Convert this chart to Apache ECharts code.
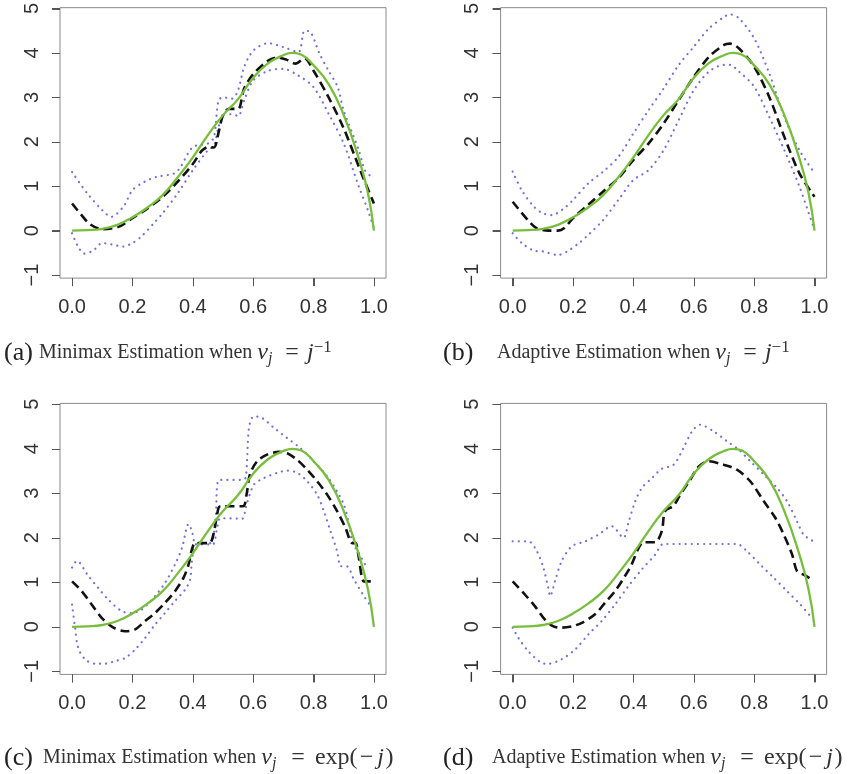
<!DOCTYPE html>
<html>
<head>
<meta charset="utf-8">
<script src="https://cdn.jsdelivr.net/npm/echarts@6/dist/echarts.min.js"></script>
<style>
  html, body { margin: 0; padding: 0; background: #ffffff; }
  #chart { width: 858px; height: 774px; }
</style>
</head>
<body>
<div id="chart"></div>
<script>
// tick labels
let xTicks = [0, 0.2, 0.4, 0.6, 0.8, 1.0]
let yTicks = [-1, 0, 1, 2, 3, 4, 5]

// true function, same in every panel
let trueCurve = [[0, 0], [0.05, 0.01], [0.1, 0.04], [0.15, 0.13], [0.2, 0.3], [0.25, 0.52], [0.3, 0.8],
  [0.35, 1.2], [0.4, 1.65], [0.45, 2.15], [0.5, 2.6], [0.55, 2.96], [0.6, 3.44], [0.65, 3.77],
  [0.7, 3.95], [0.73, 4.0], [0.76, 3.96], [0.8, 3.72], [0.85, 3.3], [0.9, 2.6], [0.95, 1.62],
  [0.98, 0.85], [1, 0]]

// (a) minimax, v_j = j^-1
let estA = [[0, 0.61], [0.03, 0.36], [0.06, 0.14], [0.1, 0.03], [0.13, 0.05], [0.16, 0.1], [0.2, 0.28],
  [0.25, 0.5], [0.3, 0.76], [0.35, 1.1], [0.4, 1.5], [0.43, 1.8], [0.45, 1.88], [0.47, 1.87],
  [0.485, 2.2], [0.5, 2.6], [0.52, 2.74], [0.55, 2.74], [0.57, 3.2], [0.6, 3.52], [0.65, 3.83],
  [0.68, 3.9], [0.71, 3.85], [0.74, 3.76], [0.77, 3.88], [0.8, 3.6], [0.85, 3.0], [0.9, 2.3],
  [0.95, 1.44], [0.97, 1.1], [1, 0.61]]
let upA = [[0, 1.32], [0.05, 0.84], [0.1, 0.46], [0.13, 0.31], [0.17, 0.54], [0.2, 0.91], [0.24, 1.1],
  [0.28, 1.21], [0.34, 1.29], [0.36, 1.44], [0.4, 1.88], [0.45, 1.96], [0.47, 2.1], [0.485, 2.93],
  [0.5, 3.0], [0.53, 2.97], [0.55, 3.16], [0.57, 3.68], [0.6, 4.05], [0.65, 4.22], [0.7, 4.13],
  [0.75, 4.02], [0.77, 4.5], [0.79, 4.47], [0.82, 3.98], [0.85, 3.6], [0.88, 3.23], [0.9, 2.7],
  [0.95, 1.81], [0.97, 1.36], [0.99, 1.22]]
let loA = [[0, -0.06], [0.02, -0.36], [0.04, -0.52], [0.07, -0.45], [0.1, -0.28], [0.13, -0.31],
  [0.17, -0.36], [0.2, -0.28], [0.23, -0.13], [0.27, 0.16], [0.3, 0.39], [0.35, 0.84], [0.4, 1.36],
  [0.45, 1.81], [0.47, 1.92], [0.485, 2.33], [0.5, 2.6], [0.53, 2.62], [0.55, 2.58], [0.57, 2.93],
  [0.6, 3.38], [0.65, 3.6], [0.7, 3.64], [0.75, 3.49], [0.8, 3.23], [0.85, 2.63], [0.9, 1.96],
  [0.95, 0.99], [0.98, 0.46], [1, 0.05]]

// (b) adaptive, v_j = j^-1
let estB = [[0, 0.65], [0.05, 0.24], [0.08, 0.05], [0.12, 0], [0.15, 0], [0.17, 0.05], [0.2, 0.28],
  [0.25, 0.58], [0.3, 0.88], [0.35, 1.18], [0.4, 1.59], [0.45, 1.96], [0.5, 2.41], [0.55, 2.94],
  [0.6, 3.46], [0.65, 3.91], [0.7, 4.18], [0.72, 4.21], [0.75, 4.1], [0.8, 3.69], [0.85, 3.01],
  [0.9, 2.11], [0.95, 1.29], [1, 0.76]]
let upB = [[0, 1.33], [0.03, 0.91], [0.07, 0.54], [0.1, 0.39], [0.13, 0.35], [0.17, 0.5], [0.2, 0.69],
  [0.25, 1.06], [0.3, 1.33], [0.35, 1.66], [0.4, 2.19], [0.45, 2.71], [0.5, 3.2], [0.55, 3.73],
  [0.6, 4.14], [0.65, 4.55], [0.7, 4.81], [0.72, 4.87], [0.75, 4.78], [0.8, 4.33], [0.85, 3.54],
  [0.9, 2.56], [0.95, 1.81], [1, 1.3]]
let loB = [[0, -0.06], [0.03, -0.28], [0.07, -0.45], [0.1, -0.47], [0.15, -0.55], [0.18, -0.47],
  [0.22, -0.28], [0.25, -0.1], [0.3, 0.24], [0.35, 0.69], [0.4, 1.14], [0.45, 1.36], [0.5, 1.81],
  [0.55, 2.49], [0.6, 3.16], [0.65, 3.58], [0.7, 3.73], [0.72, 3.73], [0.75, 3.58], [0.8, 3.24],
  [0.85, 2.56], [0.9, 1.81], [0.95, 0.99], [1, 0.01]]

// (c) minimax, v_j = exp(-j)
let estC = [[0, 1.02], [0.032, 0.8], [0.065, 0.5], [0.098, 0.2], [0.137, -0.02], [0.176, -0.1],
  [0.209, -0.06], [0.242, 0.13], [0.275, 0.31], [0.308, 0.54], [0.341, 0.8], [0.369, 1.1],
  [0.386, 1.4], [0.397, 1.74], [0.408, 1.88], [0.455, 1.88], [0.468, 2.07], [0.485, 2.67],
  [0.492, 2.71], [0.566, 2.71], [0.578, 2.97], [0.589, 3.42], [0.613, 3.72], [0.646, 3.87],
  [0.685, 3.93], [0.713, 3.9], [0.746, 3.75], [0.779, 3.53], [0.812, 3.27], [0.845, 2.97],
  [0.878, 2.6], [0.906, 2.22], [0.928, 1.88], [0.939, 1.88], [0.95, 1.55], [0.967, 1.02], [0.99, 1.02]]
let upC = [[0, 1.33], [0.016, 1.48], [0.054, 1.14], [0.087, 0.87], [0.12, 0.61], [0.165, 0.35],
  [0.198, 0.31], [0.231, 0.39], [0.275, 0.69], [0.308, 0.99], [0.341, 1.4], [0.364, 1.77],
  [0.386, 2.31], [0.397, 2.15], [0.41, 1.88], [0.457, 1.88], [0.475, 2.4], [0.487, 3.3],
  [0.558, 3.3], [0.575, 3.35], [0.586, 4.47], [0.602, 4.73], [0.63, 4.69], [0.669, 4.47],
  [0.713, 4.24], [0.757, 4.01], [0.8, 3.72], [0.845, 3.38], [0.878, 3.04], [0.9, 2.75],
  [0.917, 2.33], [0.928, 1.92], [0.95, 1.65], [0.978, 1.32]]
let loC = [[0, 0.5], [0.01, -0.02], [0.02, -0.47], [0.043, -0.73], [0.076, -0.83], [0.109, -0.83],
  [0.143, -0.77], [0.176, -0.7], [0.209, -0.51], [0.242, -0.25], [0.275, 0.05], [0.308, 0.31],
  [0.341, 0.58], [0.375, 0.84], [0.391, 1.06], [0.397, 1.47], [0.41, 1.85], [0.465, 1.85],
  [0.48, 2.2], [0.492, 2.44], [0.564, 2.43], [0.575, 2.67], [0.602, 3.19], [0.635, 3.34],
  [0.68, 3.46], [0.713, 3.51], [0.746, 3.46], [0.779, 3.27], [0.812, 2.97], [0.834, 2.6],
  [0.856, 2.15], [0.878, 1.7], [0.89, 1.36], [0.91, 1.36], [0.934, 1.06], [0.967, 0.69], [0.99, 0.46]]

// (d) adaptive, v_j = exp(-j)
let estD = [[0, 1.02], [0.041, 0.72], [0.074, 0.46], [0.107, 0.16], [0.135, 0.01], [0.162, -0.02],
  [0.196, 0.01], [0.229, 0.09], [0.273, 0.28], [0.306, 0.54], [0.339, 0.8], [0.372, 1.14],
  [0.394, 1.4], [0.417, 1.77], [0.433, 1.9], [0.472, 1.9], [0.494, 2.15], [0.505, 2.6],
  [0.533, 2.72], [0.555, 2.97], [0.588, 3.3], [0.616, 3.6], [0.649, 3.72], [0.699, 3.64],
  [0.743, 3.53], [0.787, 3.27], [0.832, 2.82], [0.87, 2.45], [0.898, 2.07], [0.926, 1.62],
  [0.942, 1.25], [0.964, 1.17], [0.997, 1.04]]
let upD = [[0, 1.92], [0.052, 1.92], [0.08, 1.7], [0.102, 1.32], [0.118, 0.87], [0.124, 0.69],
  [0.14, 1.02], [0.162, 1.47], [0.196, 1.81], [0.24, 1.92], [0.284, 2.07], [0.328, 2.26],
  [0.367, 2.0], [0.383, 2.33], [0.406, 2.82], [0.428, 3.12], [0.461, 3.34], [0.494, 3.55],
  [0.533, 3.64], [0.566, 4.02], [0.594, 4.39], [0.621, 4.54], [0.666, 4.39], [0.71, 4.17],
  [0.749, 3.98], [0.787, 3.72], [0.832, 3.42], [0.876, 3.12], [0.909, 2.82], [0.942, 2.37],
  [0.964, 2.07], [0.997, 1.92]]
let loD = [[0, -0.02], [0.019, -0.25], [0.052, -0.55], [0.096, -0.81], [0.118, -0.83], [0.162, -0.73],
  [0.207, -0.51], [0.251, -0.17], [0.295, 0.13], [0.339, 0.5], [0.383, 0.91], [0.428, 1.29],
  [0.472, 1.62], [0.5, 1.86], [0.743, 1.86], [0.776, 1.7], [0.82, 1.4], [0.865, 1.1], [0.909, 0.8],
  [0.953, 0.5], [0.986, 0.24]]

let panels = [
  {left: 60, top: 7.1, est: estA, up: upA, lo: loA},
  {left: 500.6, top: 7.1, est: estB, up: upB, lo: loB},
  {left: 60, top: 403.4, est: estC, up: upC, lo: loC},
  {left: 500.6, top: 403.4, est: estD, up: upD, lo: loD}
]

let mathInv = '{v|v}{sub|j}{eqa|=}{it|j}{sup|−1}'
let mathExp = '{v|v}{sub|j}{eq|=}{rm|exp(}{op|−}{jx|j}{rm|)}'
let captions = [
  {tag: '(a)', tagLeft: 4, left: 39, mid: 352, text: 'Minimax Estimation when ' + mathInv},
  {tag: '(b)', tagLeft: 443, left: 497, mid: 352, text: 'Adaptive Estimation when ' + mathInv},
  {tag: '(c)', tagLeft: 4, left: 43, mid: 757, text: 'Minimax Estimation when ' + mathExp},
  {tag: '(d)', tagLeft: 443, left: 492, mid: 757, text: 'Adaptive Estimation when ' + mathExp}
]

let myChart = echarts.init(document.getElementById('chart'))

let grid = [], xAxis = [], yAxis = [], series = [], title = []
let labelFont = 'Liberation Sans, Arial, sans-serif'
let serif = 'Liberation Serif, Times New Roman, serif'
let ink = '#333'
let boxColor = '#8a8a8a'
let tickColor = '#555'
let xMin = -0.04, xMax = 1.04, yMin = -1.07, yMax = 5.02
let tickLen = 8

panels.forEach((p, i) => {
  grid.push({
    left: p.left, top: p.top, width: 326, height: 271,
    show: true, borderColor: boxColor, borderWidth: 1, backgroundColor: 'transparent'
  })
  xAxis.push({
    gridIndex: i, type: 'value', min: xMin, max: xMax,
    axisLine: {show: false, onZero: false},
    axisTick: {show: true, length: tickLen, customValues: xTicks, lineStyle: {color: tickColor}},
    splitLine: {show: false},
    axisLabel: {
      customValues: xTicks, margin: 19, color: ink, fontSize: 20, fontFamily: labelFont,
      formatter: v => v.toFixed(1)
    }
  })
  yAxis.push({
    gridIndex: i, type: 'value', min: yMin, max: yMax,
    axisLine: {show: false, onZero: false},
    axisTick: {show: true, length: tickLen, customValues: yTicks, lineStyle: {color: tickColor}},
    splitLine: {show: false},
    axisLabel: {
      customValues: yTicks, rotate: 90, margin: 18, color: ink, fontSize: 20, fontFamily: labelFont,
      formatter: v => String(v).replace('-', '−')
    }
  })
  let common = {type: 'line', xAxisIndex: i, yAxisIndex: i, showSymbol: false, silent: true, smooth: 0.3}
  series.push(Object.assign({}, common, {
    data: p.lo, lineStyle: {color: '#7070dc', width: 2.2, type: [0.1, 6], cap: 'round'}
  }))
  series.push(Object.assign({}, common, {
    data: p.up, lineStyle: {color: '#7070dc', width: 2.2, type: [0.1, 6], cap: 'round'}
  }))
  series.push(Object.assign({}, common, {
    data: p.est, lineStyle: {color: '#111', width: 2.6, type: [9, 5]}
  }))
  series.push(Object.assign({}, common, {
    data: trueCurve, smooth: 0.5, lineStyle: {color: '#78bd3c', width: 2.3}
  }))
})

let mathStyle = {fontFamily: serif, fontSize: 24, color: ink, lineHeight: 28}
captions.forEach(c => {
  title.push({
    text: c.tag, left: c.tagLeft, top: c.mid - 12, padding: 0,
    textStyle: {fontFamily: serif, fontSize: 26, fontWeight: 'normal', color: '#222', lineHeight: 26}
  })
  title.push({
    text: c.text, left: c.left, top: c.mid - 13, padding: 0,
    textStyle: {
      fontFamily: serif, fontSize: 20, fontWeight: 'normal', color: ink, lineHeight: 28,
      rich: {
        v: Object.assign({}, mathStyle, {fontStyle: 'italic'}),
        it: Object.assign({}, mathStyle, {fontStyle: 'italic'}),
        jx: Object.assign({}, mathStyle, {fontStyle: 'italic', width: 10}),
        rm: Object.assign({}, mathStyle),
        op: Object.assign({}, mathStyle, {width: 18, align: 'center'}),
        eq: Object.assign({}, mathStyle, {width: 34, align: 'center'}),
        eqa: Object.assign({}, mathStyle, {width: 30, align: 'center'}),
        sub: {fontFamily: serif, fontStyle: 'italic', fontSize: 16, color: ink, lineHeight: 16,
          verticalAlign: 'bottom', width: 9},
        sup: {fontFamily: serif, fontSize: 17, color: ink, lineHeight: 14, verticalAlign: 'top'}
      }
    }
  })
})

let option = {
  backgroundColor: '#ffffff',
  animation: false,
  title: title,
  grid: grid,
  xAxis: xAxis,
  yAxis: yAxis,
  series: series
}
myChart.setOption(option)

// R style ticks hanging off the box, placed through each panel's own scales
function drawTicks() {
  let ticks = []
  panels.forEach((p, i) => {
    let bottom = myChart.convertToPixel({yAxisIndex: i}, yMin)
    let left = myChart.convertToPixel({xAxisIndex: i}, xMin)
    xTicks.forEach(v => {
      let px = Math.round(myChart.convertToPixel({xAxisIndex: i}, v)) + 0.5
      ticks.push({type: 'line', silent: true, z: 10,
        shape: {x1: px, y1: bottom, x2: px, y2: bottom + tickLen},
        style: {stroke: tickColor, lineWidth: 1}})
    })
    yTicks.forEach(v => {
      let py = Math.round(myChart.convertToPixel({yAxisIndex: i}, v)) + 0.5
      ticks.push({type: 'line', silent: true, z: 10,
        shape: {x1: left - tickLen, y1: py, x2: left, y2: py},
        style: {stroke: tickColor, lineWidth: 1}})
    })
  })
  myChart.setOption({graphic: ticks}, {replaceMerge: ['graphic']})
}
drawTicks()

window.onresize = function () {
  myChart.resize()
  drawTicks()
}
</script>
</body>
</html>
